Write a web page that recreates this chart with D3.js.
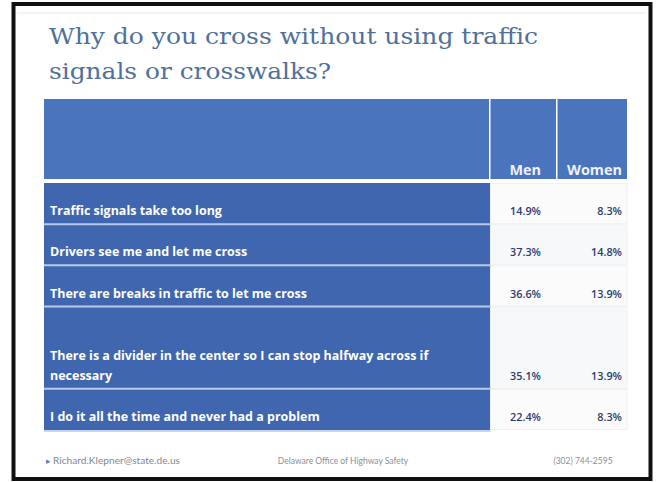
<!DOCTYPE html>
<html><head><meta charset="utf-8">
<script src="https://cdn.jsdelivr.net/npm/d3@7"></script>
<style>html,body{margin:0;padding:0;background:#fff;}svg{display:block;}</style>
</head><body>
<script>
const titleLines = ["Why do you cross without using traffic", "signals or crosswalks?"];
const categories = [
  "Traffic signals take too long",
  "Drivers see me and let me cross",
  "There are breaks in traffic to let me cross",
  "There is a divider in the center so I can stop halfway across if\nnecessary",
  "I do it all the time and never had a problem"
];
const columns = ["Men", "Women"];
const men = [14.9, 37.3, 36.6, 35.1, 22.4];
const women = [8.3, 14.8, 13.9, 13.9, 8.3];
const footerLeft = "Richard.Klepner@state.de.us";
const footerCenter = "Delaware Office of Highway Safety";
const footerRight = "(302) 744-2595";

const W = 660, H = 482;
const svg = d3.select("body").append("svg").attr("width", W).attr("height", H);
const sans = "'Open Sans', Lato, sans-serif";

// measure helper: font size so that sample text spans target width
function fitSize(sample, weight, target, base) {
  const t = svg.append("text").attr("font-family", sans).attr("font-weight", weight)
    .attr("font-size", base).text(sample);
  const w = t.node().getComputedTextLength();
  t.remove();
  return base * target / w;
}

// slide frame
svg.append("rect").attr("x", 0).attr("y", 0).attr("width", W).attr("height", H).attr("fill", "#fff");
svg.append("line").attr("x1", 17).attr("x2", 646).attr("y1", 13).attr("y2", 13).attr("stroke", "#e6e8ea").attr("stroke-width", 1);
svg.append("rect").attr("x", 13.5).attr("y", 4).attr("width", 637).attr("height", 475)
  .attr("fill", "none").attr("stroke", "#111").attr("stroke-width", 4);

// title
const title = svg.append("g");
titleLines.forEach((t, i) => {
  title.append("text").attr("x", 49).attr("y", 44 + i * 34.5)
    .attr("font-family", "'DejaVu Serif', serif").attr("font-size", 23)
    .attr("fill", "#50709a").attr("textLength", i === 0 ? 489 : 282)
    .attr("lengthAdjust", "spacingAndGlyphs").text(t);
});

// layout scales
const lines = categories.map(c => c.split("\n"));
const units = lines.map(l => l.length);
const cum = [0];
units.forEach(u => cum.push(cum[cum.length - 1] + u));
const y = d3.scaleLinear().domain([0, cum[cum.length - 1]]).range([183, 430]);
const colKeys = ["label", ...columns];
const colLeft = d3.scaleOrdinal().domain(colKeys).range([44, 490.5, 557.5]);
const colRight = d3.scaleOrdinal().domain(colKeys).range([490.5, 557.5, 627]);
const textRight = d3.scaleOrdinal().domain(columns).range([541, 622]);

const headerBlue = "#4a74bb", bodyBlue = "#3f66ae";
const labelSize = fitSize(categories[0], "bold", 172, 11);
const headSize = fitSize("Women", "bold", 55, 11);
const valSize = fitSize("14.9%", 600, 31, 11);

// header
const head = svg.append("g");
head.selectAll("rect").data(colKeys).join("rect")
  .attr("x", d => colLeft(d)).attr("y", 99)
  .attr("width", d => colRight(d) - colLeft(d) - (d === "Women" ? 0 : 1.5)).attr("height", 80)
  .attr("fill", headerBlue);
head.selectAll("text").data(columns).join("text")
  .attr("x", d => textRight(d)).attr("y", 175).attr("text-anchor", "end")
  .attr("font-family", sans).attr("font-weight", "bold")
  .attr("font-size", headSize).attr("fill", "#eef2fa").text(d => d);

// body
const rows = svg.append("g").selectAll("g").data(categories.map((c, i) => ({
  lines: lines[i], i, men: men[i], women: women[i]
}))).join("g");

rows.append("rect").attr("x", colLeft("label")).attr("y", d => y(cum[d.i]))
  .attr("width", colRight("label") - colLeft("label"))
  .attr("height", d => y(cum[d.i + 1]) - y(cum[d.i]))
  .attr("fill", bodyBlue);
rows.append("rect").attr("x", colLeft("Men")).attr("y", d => y(cum[d.i]) + 0.5)
  .attr("width", colRight("Women") - colLeft("Men"))
  .attr("height", d => y(cum[d.i + 1]) - y(cum[d.i]) - 1)
  .attr("fill", d => d.i % 2 ? "#f7f8fa" : "#fbfbfc").attr("stroke", "#eef0f3").attr("stroke-width", 1);
rows.filter(d => d.i > 0).append("line")
  .attr("x1", colLeft("label")).attr("x2", colRight("label"))
  .attr("y1", d => y(cum[d.i])).attr("y2", d => y(cum[d.i]))
  .attr("stroke", "#b9cbe8").attr("stroke-width", 2);

rows.each(function(d) {
  const g = d3.select(this);
  const bottom = y(cum[d.i + 1]);
  d.lines.forEach((t, k) => {
    g.append("text").attr("x", 50).attr("y", bottom - 9 - (d.lines.length - 1 - k) * 19.5)
      .attr("font-family", sans).attr("font-weight", "bold")
      .attr("font-size", labelSize).attr("fill", "#ffffff").text(t);
  });
  [["Men", d.men], ["Women", d.women]].forEach(([c, v]) => {
    g.append("text").attr("x", textRight(c)).attr("y", bottom - 9).attr("text-anchor", "end")
      .attr("font-family", sans).attr("font-weight", 600).attr("font-size", valSize)
      .attr("fill", "#2c3c6c").text(d3.format(".1f")(v) + "%");
  });
});
svg.append("line").attr("x1", 44).attr("x2", 490.5).attr("y1", 431).attr("y2", 431)
  .attr("stroke", "#c6d5ee").attr("stroke-width", 2);

// footer
const foot = svg.append("g").attr("font-family", "Lato, 'Open Sans', sans-serif").attr("font-size", 8.5);
foot.append("text").attr("x", 46).attr("y", 464).attr("fill", "#5b7fc0").attr("font-size", 9).text("▸");
foot.append("text").attr("x", 53).attr("y", 464).attr("fill", "#7d8798").attr("textLength", 127)
  .attr("lengthAdjust", "spacingAndGlyphs").text(footerLeft);
foot.append("text").attr("x", 343).attr("y", 464).attr("text-anchor", "middle").attr("fill", "#8a8f98").text(footerCenter);
foot.append("text").attr("x", 583).attr("y", 464).attr("text-anchor", "middle").attr("fill", "#8a8f98").text(footerRight);
</script>
</body></html>
